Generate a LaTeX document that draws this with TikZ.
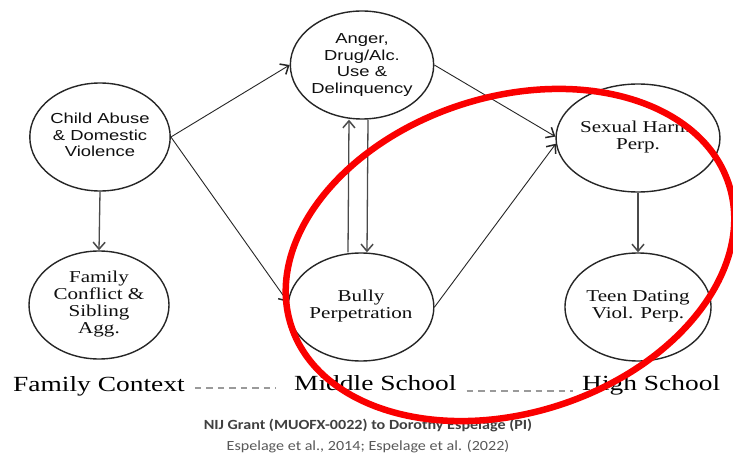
\documentclass[tikz,border=0pt]{standalone}
\usepackage{fontspec}
\usepackage{graphicx}
\usetikzlibrary{arrows.meta,shapes.geometric}
\setmainfont{Liberation Serif}
\newfontfamily\arialf{Liberation Sans}
\newfontfamily\calib{Carlito}
\definecolor{ink}{HTML}{101010}
\definecolor{edge}{HTML}{262626}
\definecolor{stem}{HTML}{4A4A4A}
\definecolor{dashgrey}{HTML}{9A9A9A}
\definecolor{footA}{HTML}{404040}
\definecolor{footB}{HTML}{595959}
\definecolor{marker}{RGB}{250,0,0}
% horizontally widened text
\newcommand{\wx}[1]{\scalebox{1.27}[1]{#1}}
\newcommand{\wf}[1]{\scalebox{1.15}[1]{#1}}
\newcommand{\stack}[1]{\begin{tabular}{@{}c@{}}#1\end{tabular}}
\newcommand{\sansbox}[1]{\wx{\arialf\fontsize{14.5}{16.5}\selectfont\stack{#1}}}
\newcommand{\serifbox}[1]{\wx{\fontsize{16.6}{17}\selectfont\stack{#1}}}
\begin{document}
\begin{tikzpicture}[x=1pt,y=-1pt,
  bubble/.style={draw=edge,line width=1.4pt,ellipse,minimum width=140pt,
    minimum height=108pt,inner sep=0pt,text=ink},
  tip/.style={-{Straight Barb[length=7pt,width=12pt,line width=1.5pt]}},
  diag/.style={tip,draw=edge,line width=0.9pt},
  vert/.style={tip,draw=stem,line width=1.3pt},
  stage/.style={inner sep=0pt,text=black,font=\fontsize{21.6}{24}\selectfont},
  dots/.style={draw=dashgrey,line width=1.6pt,dash pattern=on 6.5pt off 5pt},
  foot/.style={inner sep=0pt,anchor=base}]
\useasboundingbox[fill=white] (0,0) rectangle (733,454);

% nodes
\node[bubble] (ca) at (100,137) {\sansbox{Child Abuse\\ \& Domestic\\ Violence}};
\node[bubble] (fc) at (99,305) {\serifbox{Family\\ Conflict \&\\ Sibling\\ Agg.}};
\node[bubble] (an) at (362,65) {\sansbox{Anger,\\ Drug/Alc.\\ Use \&\\ Delinquency}};
\node[bubble] (bp) at (361,307) {\raisebox{5pt}{\serifbox{Bully\\ Perpetration}}};
\node[bubble] (sh) at (638,138) {\raisebox{4pt}{\serifbox{Sexual Harm.\\ Perp.}}};
\node[bubble] (td) at (638,307) {\raisebox{2pt}{\serifbox{Teen Dating\\ Viol. Perp.}}};

% connectors
\draw[vert] (ca.south) -- (fc.north);
\draw[diag] (ca.east) -- (an.west);
\draw[diag] (ca.east) -- (bp.176);
\draw[diag] (an.east) -- (sh.179);
\draw[diag] (bp.east) -- (sh.184);
\draw[vert] ([xshift=-13pt]bp.north) -- ([xshift=-13pt]an.south);
\draw[vert] ([xshift=6pt]an.south) -- ([xshift=6pt]bp.north);
\draw[vert] (sh.south) -- (td.north);

% stage labels
\node[stage,anchor=base west] (fctx) at (13,391) {\wx{Family Context}};
\node[stage,anchor=base west] (msch) at (294,390) {\wx{Middle School}};
\node[stage,anchor=base west] (hsch) at (582,390) {\wx{High School}};
\draw[dots] ([shift={(10,-3)}]fctx.base east) -- ([shift={(-18,-2)}]msch.base west);
\draw[dots] ([shift={(10,1)}]msch.base east) -- ([shift={(-9,1)}]hsch.base west);

% footer
\node[foot,text=footA] (f1) at (368,429)
  {\wf{\calib\bfseries\fontsize{14}{16}\selectfont NIJ Grant (MUOFX-0022) to Dorothy Espelage (PI)}};
\node[foot,text=footB] (f2) at (368,450)
  {\wf{\calib\fontsize{14}{16}\selectfont Espelage et al., 2014; Espelage et al. (2022)}};

% red highlight ring
\draw[marker,line width=6.5pt,rotate around={17.8:(510,255)}]
  (510,255) ellipse [x radius=230,y radius=158];
\end{tikzpicture}
\end{document}
